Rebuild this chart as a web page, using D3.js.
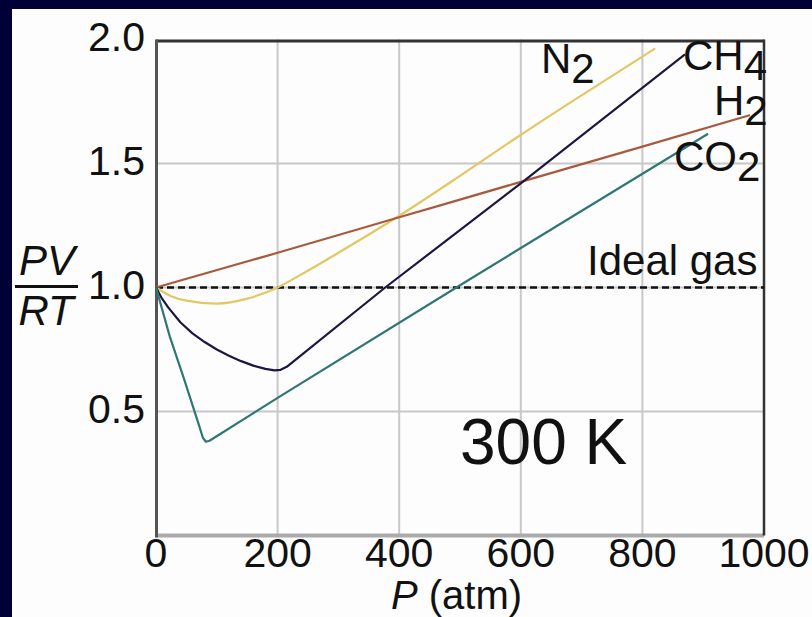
<!DOCTYPE html>
<html>
<head>
<meta charset="utf-8">
<script src="https://cdn.jsdelivr.net/npm/d3@7"></script>
<style>
    body { margin: 0; background: #000036; }
    svg { display: block; }
    text { font-family: 'Liberation Sans', Arial, sans-serif; fill: #111; }
</style>
</head>
<body>
<div id="chart"></div>
<script>
// pressure (atm) and compressibility PV/RT
let xTicks = [0, 200, 400, 600, 800, 1000];
let yTicks = [0.5, 1.0, 1.5, 2.0];
let yTickLabels = ['0.5', '1.0', '1.5', '2.0'];

let h2P = [0, 200, 400, 600, 800, 977];
let h2Z = [1.0, 1.14, 1.283, 1.426, 1.568, 1.695];

let n2P = [0, 25, 50, 100, 150, 200, 237, 300, 393, 500, 599, 700, 821];
let n2Z = [1.0, 0.965, 0.947, 0.935, 0.955, 1.0, 1.05, 1.14, 1.278, 1.45, 1.614, 1.775, 1.964];

let ch4P = [0, 10, 20, 40, 60, 80, 100, 120, 140, 160, 180, 195, 205, 215, 377, 600, 870];
let ch4Z = [1.0, 0.955, 0.92, 0.86, 0.815, 0.78, 0.75, 0.725, 0.703, 0.685, 0.672, 0.666, 0.668, 0.68, 1.0, 1.42, 1.94];

let co2P = [0, 23, 45, 70, 77, 82, 88, 200, 494, 664, 908];
let co2Z = [1.0, 0.80, 0.64, 0.45, 0.395, 0.378, 0.382, 0.555, 1.0, 1.255, 1.62];

let idealP = [0, 1000];
let idealZ = [1.0, 1.0];

let series = [
    { name: 'N2', p: n2P, z: n2Z, color: '#e2c863', smooth: true },
    { name: 'H2', p: h2P, z: h2Z, color: '#a85a3e', smooth: true },
    { name: 'CH4', p: ch4P, z: ch4Z, color: '#1e1640', smooth: false },
    { name: 'CO2', p: co2P, z: co2Z, color: '#2e7775', smooth: false }
];

let width = 812;
let height = 617;

let x = d3.scaleLinear()
    .domain([0, 1000])
    .range([156, 764]);

let y = d3.scaleLinear()
    .domain([0, 2])
    .range([535.5, 39.5]);

let svg = d3.select('#chart')
    .append('svg')
    .attr('width', width)
    .attr('height', height);

// white panel inside the dark frame
svg.append('rect')
    .attr('x', 12)
    .attr('y', 9)
    .attr('width', width - 12)
    .attr('height', height - 9)
    .attr('fill', '#fdfdfd');

// grid
svg.append('g')
    .selectAll('line')
    .data(xTicks.slice(1, -1))
    .enter()
    .append('line')
    .attr('x1', d => x(d))
    .attr('x2', d => x(d))
    .attr('y1', y(2))
    .attr('y2', y(0))
    .attr('stroke', '#c8c8c8')
    .attr('stroke-width', 2);

svg.append('g')
    .selectAll('line')
    .data(yTicks.slice(0, -1))
    .enter()
    .append('line')
    .attr('x1', x(0))
    .attr('x2', x(1000))
    .attr('y1', d => y(d))
    .attr('y2', d => y(d))
    .attr('stroke', '#c8c8c8')
    .attr('stroke-width', 2);

// frame
svg.append('line')
    .attr('x1', x(0)).attr('x2', x(1000))
    .attr('y1', y(0)).attr('y2', y(0))
    .attr('stroke', '#ababab')
    .attr('stroke-width', 4);

svg.append('line')
    .attr('x1', x(0)).attr('x2', x(1000))
    .attr('y1', y(2) + 1.5).attr('y2', y(2) + 1.5)
    .attr('stroke', '#333')
    .attr('stroke-width', 3);

svg.append('line')
    .attr('x1', x(1000)).attr('x2', x(1000))
    .attr('y1', y(2)).attr('y2', y(0))
    .attr('stroke', '#333')
    .attr('stroke-width', 2.5);

svg.append('line')
    .attr('x1', x(0) + 0.5).attr('x2', x(0) + 0.5)
    .attr('y1', y(2)).attr('y2', y(0) + 2)
    .attr('stroke', '#555')
    .attr('stroke-width', 3);

// ideal gas reference
let line = d3.line()
    .x(d => x(d[0]))
    .y(d => y(d[1]));

svg.append('path')
    .attr('d', line(d3.zip(idealP, idealZ)))
    .attr('fill', 'none')
    .attr('stroke', '#111')
    .attr('stroke-width', 2.5)
    .attr('stroke-dasharray', '7,4');

// gas curves
let smoothLine = d3.line()
    .curve(d3.curveMonotoneX)
    .x(d => x(d[0]))
    .y(d => y(d[1]));

svg.append('g')
    .selectAll('path')
    .data(series)
    .enter()
    .append('path')
    .attr('d', s => (s.smooth ? smoothLine : line)(d3.zip(s.p, s.z)))
    .attr('fill', 'none')
    .attr('stroke', s => s.color)
    .attr('stroke-width', 2.2)
    .attr('stroke-linejoin', 'round');

// tick labels
svg.append('g')
    .selectAll('text')
    .data(xTicks)
    .enter()
    .append('text')
    .attr('x', d => x(d))
    .attr('y', 567)
    .attr('text-anchor', 'middle')
    .style('font-size', '41px')
    .text(d => d);

svg.append('g')
    .selectAll('text')
    .data(yTicks)
    .enter()
    .append('text')
    .attr('x', 145)
    .attr('y', d => y(d) + 11)
    .attr('text-anchor', 'end')
    .style('font-size', '41px')
    .text((d, i) => yTickLabels[i]);

// axis titles
let xTitle = svg.append('text')
    .attr('x', 391)
    .attr('y', 609)
    .style('font-size', '40px');
xTitle.append('tspan').style('font-style', 'italic').text('P');
xTitle.append('tspan').text(' (atm)');

svg.append('text')
    .attr('x', 47)
    .attr('y', 275)
    .attr('text-anchor', 'middle')
    .style('font-size', '42px')
    .style('font-style', 'italic')
    .text('PV');

svg.append('line')
    .attr('x1', 15).attr('x2', 78)
    .attr('y1', 286.5).attr('y2', 286.5)
    .attr('stroke', '#111')
    .attr('stroke-width', 3);

svg.append('text')
    .attr('x', 46)
    .attr('y', 325)
    .attr('text-anchor', 'middle')
    .style('font-size', '42px')
    .style('font-style', 'italic')
    .text('RT');

// curve labels with subscripts
let labels = [
    { main: 'N', sub: '2', x: 541, y: 73 },
    { main: 'CH', sub: '4', x: 683, y: 70 },
    { main: 'H', sub: '2', x: 714, y: 115 },
    { main: 'CO', sub: '2', x: 674, y: 171 }
];

labels.forEach(l => {
    let t = svg.append('text')
        .attr('x', l.x)
        .attr('y', l.y)
        .style('font-size', '42px');
    t.append('tspan').text(l.main);
    t.append('tspan').attr('dy', 10).text(l.sub);
});

svg.append('text')
    .attr('x', 587)
    .attr('y', 275)
    .style('font-size', '42px')
    .text('Ideal gas');

svg.append('text')
    .attr('x', 460)
    .attr('y', 464)
    .style('font-size', '64px')
    .text('300 K');
</script>
</body>
</html>
